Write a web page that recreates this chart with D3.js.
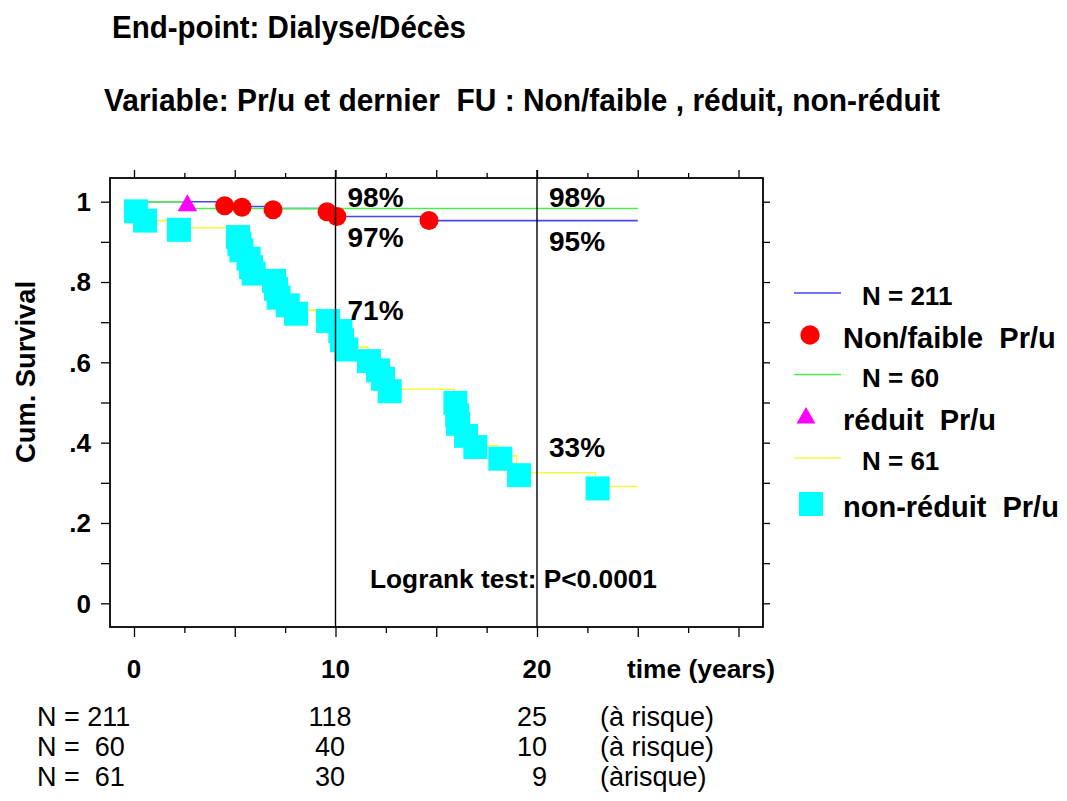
<!DOCTYPE html>
<meta charset="utf-8">
<style>
body { margin: 0; background: #fff; }
text { font-family: "Liberation Sans", Arial, sans-serif; white-space: pre; }
.b { font-weight: bold; }
</style>
<body>
<script src="https://cdn.jsdelivr.net/npm/d3@7"></script>
<script>

// survival curves (time in years, cumulative survival)
var blueT = [0, 4.5, 6.9, 9.6, 10.07, 14.64, 25];
var blueS = [1.0, 0.988, 0.983, 0.975, 0.963, 0.953, 0.953];
var greenT = [0, 2.63, 25];
var greenS = [1.0, 0.983, 0.983];
var yellowT = [0, 0.6, 2.3, 5.16, 5.23, 5.33, 5.69, 5.81, 5.94, 6.95, 7.05, 7.18, 7.63, 8.04, 9.05,
               10.24, 10.32, 10.54, 11.6, 12.11, 12.36, 12.69, 15.9, 16.0, 16.08, 16.48, 16.94,
               18.06, 18.99, 22.9, 25];
var yellowS = [0.977, 0.953, 0.935, 0.912, 0.895, 0.879, 0.858, 0.837, 0.821, 0.803, 0.783, 0.761, 0.742, 0.73, 0.703,
               0.678, 0.655, 0.638, 0.603, 0.58, 0.559, 0.533, 0.499, 0.468, 0.447, 0.417, 0.393,
               0.367, 0.325, 0.291, 0.291];

// markers
var circT = [4.5, 5.36, 6.9, 9.58, 10.07, 14.64];
var circS = [0.99, 0.986, 0.98, 0.975, 0.963, 0.953];
var triT = [2.65];
var triS = [0.983];
var sqT = [0.1, 0.55, 2.23, 5.16, 5.23, 5.33, 5.69, 5.81, 5.94, 6.95, 7.05, 7.18, 7.63, 8.04, 9.63,
           10.24, 10.32, 10.54, 11.66, 12.11, 12.36, 12.69, 15.95, 16.04, 16.08, 16.48, 16.94, 18.18, 19.11, 23.01];
var sqS = [0.976, 0.953, 0.930, 0.912, 0.895, 0.879, 0.858, 0.837, 0.821, 0.803, 0.783, 0.761, 0.742, 0.721, 0.703,
           0.678, 0.655, 0.632, 0.603, 0.580, 0.559, 0.528, 0.499, 0.468, 0.447, 0.417, 0.389, 0.360, 0.319, 0.286];

// annotations
var pctLabels = [
  {t: 10, s: 0.983, txt: "98%", pos: "above"},
  {t: 10, s: 0.963, txt: "97%", pos: "below"},
  {t: 10, s: 0.70, txt: "71%", pos: "above"},
  {t: 20, s: 0.983, txt: "98%", pos: "above"},
  {t: 20, s: 0.953, txt: "95%", pos: "below"},
  {t: 20, s: 0.36, txt: "33%", pos: "above"}
];
var xLabels = [0, 10, 20];
var yLabels = [0, 0.2, 0.4, 0.6, 0.8, 1];
var yLabelText = ["0", ".2", ".4", ".6", ".8", "1"];
var refLines = [10, 20];

// numbers at risk
var riskN = ["N = 211", "N =  60", "N =  61"];
var risk10 = ["118", "40", "30"];
var risk20 = ["25", "10", "9"];
var riskTxt = ["(à risque)", "(à risque)", "(àrisque)"];

var legendItems = [
  {kind: "line", color: "#4646f4", label: "N = 211"},
  {kind: "circle", color: "#ff0000", label: "Non/faible  Pr/u"},
  {kind: "line", color: "#4ced4c", label: "N = 60"},
  {kind: "triangle", color: "#ff00ff", label: "réduit  Pr/u"},
  {kind: "line", color: "#f8f840", label: "N = 61"},
  {kind: "square", color: "#00ffff", label: "non-réduit  Pr/u"}
];

var W = 1067, H = 801;
var fL = 110, fR = 763, fT = 178, fB = 627;

var x = d3.scaleLinear().domain([0, 10]).range([134, 335.5]);
var y = d3.scaleLinear().domain([0, 1]).range([603.3, 201.7]);

var svg = d3.select("body").append("svg")
    .attr("width", W)
    .attr("height", H);

function label(sel, s, px, py, size, bold, anchor, len) {
  var t = sel.append("text")
      .attr("x", px).attr("y", py)
      .attr("font-size", size)
      .attr("text-anchor", anchor || "start")
      .attr("class", bold ? "b" : null)
      .text(s);
  if (len) t.attr("textLength", len).attr("lengthAdjust", "spacingAndGlyphs");
  return t;
}

// titles
label(svg, "End-point: Dialyse/Décès", 112, 38, 32, true, "start", 354);
label(svg, "Variable: Pr/u et dernier  FU : Non/faible , réduit, non-réduit", 104, 111, 32, true, "start", 836);

// ticks
var ticks5 = d3.range(0, 30.1, 5), ticks25 = d3.range(2.5, 30, 5);
svg.append("g").attr("transform", "translate(0," + fB + ")")
    .call(d3.axisBottom(x).tickValues(ticks5).tickSize(10).tickFormat(""));
svg.append("g").attr("transform", "translate(0," + fB + ")")
    .call(d3.axisBottom(x).tickValues(ticks25).tickSize(6).tickFormat(""));
svg.append("g").attr("transform", "translate(0," + fT + ")")
    .call(d3.axisTop(x).tickValues(ticks5).tickSize(8).tickFormat(""));
svg.append("g").attr("transform", "translate(0," + fT + ")")
    .call(d3.axisTop(x).tickValues(ticks25).tickSize(5).tickFormat(""));
svg.append("g").attr("transform", "translate(" + fL + ",0)")
    .call(d3.axisLeft(y).tickValues(d3.range(0, 1.01, 0.1)).tickSize(9).tickFormat(""));
svg.append("g").attr("transform", "translate(" + fR + ",0)")
    .call(d3.axisRight(y).tickValues(d3.range(0, 1.01, 0.1)).tickSize(7).tickFormat(""));
svg.selectAll(".domain").remove();
svg.selectAll(".tick line").attr("stroke", "#000").attr("stroke-width", 1.3);

// frame
svg.append("rect")
    .attr("x", fL).attr("y", fT)
    .attr("width", fR - fL).attr("height", fB - fT)
    .attr("fill", "none").attr("stroke", "#000").attr("stroke-width", 1.8);

// axis labels
xLabels.forEach(function(d) { label(svg, String(d), x(d), 678, 26, true, "middle"); });
label(svg, "time (years)", 627, 678, 26, true, "start", 148);
yLabels.forEach(function(d, i) {
  label(svg, yLabelText[i], 91, y(d), 26, true, "end").attr("dy", "0.36em");
});
label(svg, "Cum. Survival", 0, 0, 27, true, "middle", 182)
    .attr("transform", "translate(35,372) rotate(-90)");

// step curves
function steps(T, S) { return T.map(function(t, i) { return [t, S[i]]; }); }
var line = d3.line()
    .x(function(d) { return x(d[0]); })
    .y(function(d) { return y(d[1]); })
    .curve(d3.curveStepAfter);

svg.append("path").datum(steps(blueT, blueS)).attr("d", line)
    .attr("fill", "none").attr("stroke", "#4646f4").attr("stroke-width", 1.6);
svg.append("path").datum(steps(greenT, greenS)).attr("d", line)
    .attr("fill", "none").attr("stroke", "#4ced4c").attr("stroke-width", 1.6);
svg.append("path").datum(steps(yellowT, yellowS)).attr("d", line)
    .attr("fill", "none").attr("stroke", "#f8f840").attr("stroke-width", 1.6);

// markers
svg.selectAll(".circ").data(steps(circT, circS)).enter().append("circle")
    .attr("cx", function(d) { return x(d[0]); })
    .attr("cy", function(d) { return y(d[1]); })
    .attr("r", 9.5).attr("fill", "#ff0000");
svg.selectAll(".tri").data(steps(triT, triS)).enter().append("path")
    .attr("d", d3.symbol().type(d3.symbolTriangle).size(165))
    .attr("transform", function(d) { return "translate(" + x(d[0]) + "," + (y(d[1]) - 3) + ")"; })
    .attr("fill", "#ff00ff");
svg.selectAll(".sq").data(steps(sqT, sqS)).enter().append("rect")
    .attr("x", function(d) { return x(d[0]) - 12; })
    .attr("y", function(d) { return y(d[1]) - 12; })
    .attr("width", 24).attr("height", 24).attr("fill", "#00ffff");

// reference lines at 10 and 20 years
svg.selectAll(".ref").data(refLines).enter().append("line")
    .attr("x1", function(d) { return x(d); }).attr("x2", function(d) { return x(d); })
    .attr("y1", fT - 8).attr("y2", fB)
    .attr("stroke", "#000").attr("stroke-width", 1.4);

// percentages
pctLabels.forEach(function(d) {
  var py = d.pos === "above" ? y(d.s) - 2 : y(d.s) + 30;
  label(svg, d.txt, x(d.t) + 12, py, 28, true, "start");
});

label(svg, "Logrank test: P<0.0001", 370, 588, 26, true, "start", 287);

// legend
var lg = svg.append("g");
legendItems.forEach(function(d, i) {
  var ly = i % 2 === 0 ? [293, 374.5, 458][i / 2] : [335, 417, 504][(i - 1) / 2];
  if (d.kind === "line") {
    lg.append("line").attr("x1", 794).attr("x2", 841).attr("y1", ly).attr("y2", ly)
      .attr("stroke", d.color).attr("stroke-width", 1.6);
    label(lg, d.label, 862, ly + 12, 26, true, "start");
  } else {
    if (d.kind === "circle")
      lg.append("circle").attr("cx", 810).attr("cy", ly).attr("r", 9.7).attr("fill", d.color);
    else if (d.kind === "triangle")
      lg.append("path").attr("d", d3.symbol().type(d3.symbolTriangle).size(155))
        .attr("transform", "translate(806," + (ly + 1) + ")").attr("fill", d.color);
    else
      lg.append("rect").attr("x", 799).attr("y", ly - 12).attr("width", 24).attr("height", 24).attr("fill", d.color);
    label(lg, d.label, 843, ly + 13, 29, true, "start");
  }
});

// numbers at risk table
var rowY = [726, 756, 786];
riskN.forEach(function(s, i) {
  label(svg, s, 37, rowY[i], 27, false, "start");
  label(svg, risk10[i], 330, rowY[i], 27, false, "middle");
  label(svg, risk20[i], 547, rowY[i], 27, false, "end");
  label(svg, riskTxt[i], 600, rowY[i], 27, false, "start");
});

</script>
</body>
